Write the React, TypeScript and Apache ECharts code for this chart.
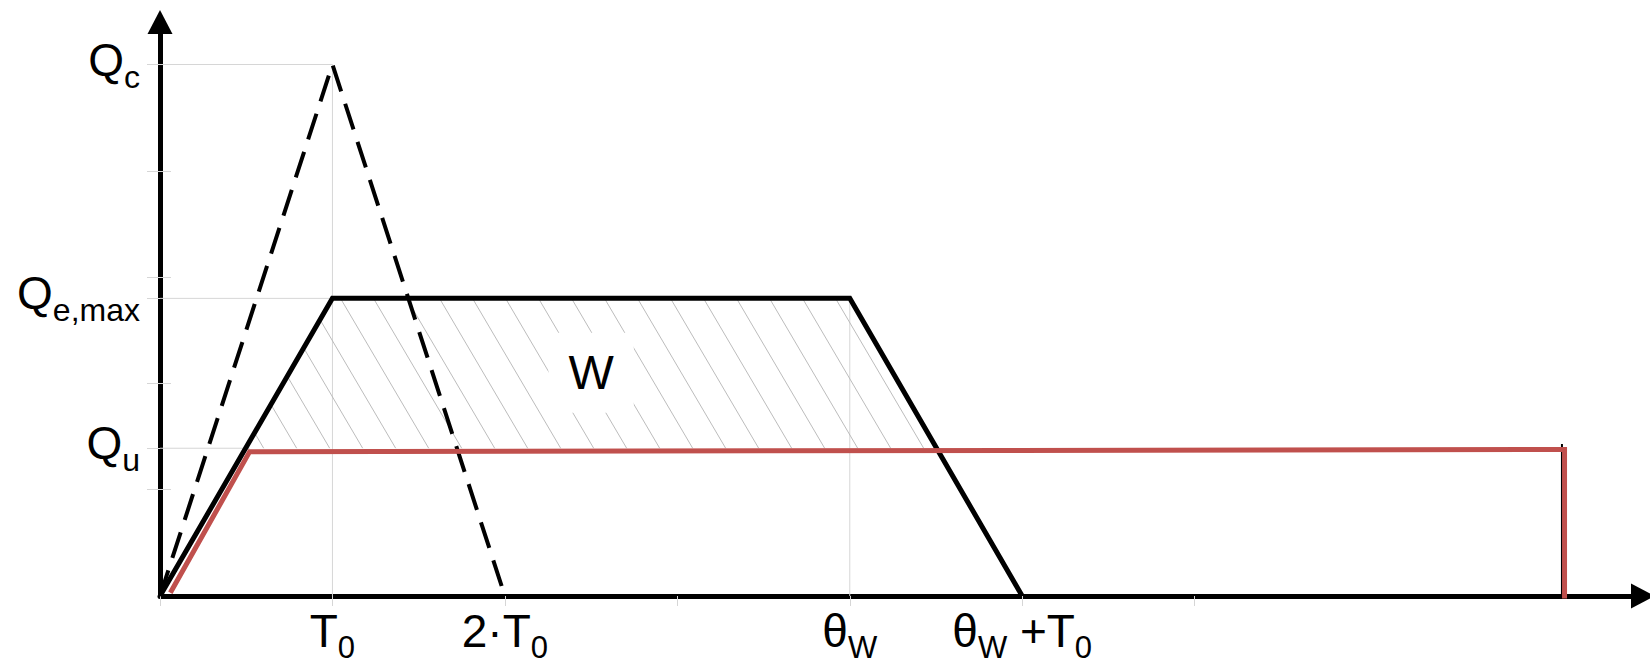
import React, { useEffect, useRef } from "react";
import * as echarts from "echarts";

// Characteristic levels (in units of the y scale)
const Q_C = 5;
const Q_E_MAX = 2.8;
const Q_U = 1.39;

// Time marks (in units of T0)
const X_MAX = 8.6;
const Y_MAX = 5.4;
const xTickValues = [0, 1, 2, 3, 4, 5, 6];
const xLabelValues = [1, 2, 4, 5];
const xLabelTexts = ["{m|T}{s|0}", "{m|2·T}{s|0}", "{m|θ}{s|W}", "{m|θ}{s|W}{m| +T}{s|0}"];

const yTickValues = [1, 2, 3, 4, 5];
const yLabelValues = [Q_U, Q_E_MAX, Q_C];
const yLabelTexts = ["{m|Q}{s|u}", "{m|Q}{s|e,max}", "{m|Q}{s|c}"];

// Curves
const peakCurve = [[0, 0], [1, Q_C], [2, 0]];
const plateauCurve = [[0, 0], [1, Q_E_MAX], [4, Q_E_MAX], [5, 0]];
const supplyCurve = [[0.06, 0.03], [0.52, 1.358], [8.145, 1.378], [8.145, -0.054]];
const endMarker = [[8.13, 1.43], [8.13, 0]];

// Light guide lines from the axes to the characteristic points
const guideLines = [
  [[0, Q_C], [1, Q_C], [1, 0]],
  [[0, Q_E_MAX], [1, Q_E_MAX]],
  [[4, Q_E_MAX], [4, 0]],
  [[0, Q_U], [0.52, Q_U]],
];

// Hatched energy region W
const hatchRegion = [[Q_U / Q_E_MAX, Q_U], [1, Q_E_MAX], [4, Q_E_MAX], [5 - Q_U / Q_E_MAX, Q_U]];
const W_POS = [2.5, 2.1];
const HATCH_SLOPE = 1.7;
const HATCH_GAP = 33;

const FONT = "'Liberation Sans', Arial, sans-serif";
const GRID_GRAY = "#d6d6d6";

function renderHatch(_params: any, api: any) {
  const poly = hatchRegion.map((p) => api.coord(p));
  const len = Math.hypot(1, HATCH_SLOPE);
  const n = [HATCH_SLOPE / len, -1 / len];
  const proj = poly.map((p: number[]) => p[0] * n[0] + p[1] * n[1]);
  const cMin = Math.min(...proj);
  const cMax = Math.max(...proj);
  const step = HATCH_GAP * n[0];
  const children: any[] = [];
  for (let c = Math.ceil(cMin / step) * step; c <= cMax; c += step) {
    const pts: number[][] = [];
    for (let i = 0; i < poly.length; i++) {
      const j = (i + 1) % poly.length;
      const fa = proj[i] - c;
      const fb = proj[j] - c;
      if ((fa <= 0 && fb > 0) || (fa > 0 && fb <= 0)) {
        const t = fa / (fa - fb);
        const a = poly[i];
        const b = poly[j];
        pts.push([a[0] + t * (b[0] - a[0]), a[1] + t * (b[1] - a[1])]);
      }
    }
    if (pts.length >= 2) {
      children.push({
        type: "line",
        shape: { x1: pts[0][0], y1: pts[0][1], x2: pts[1][0], y2: pts[1][1] },
        style: { stroke: "#b4b4b4", lineWidth: 0.9 },
      });
    }
  }
  const w = api.coord(W_POS);
  children.push({
    type: "text",
    x: w[0],
    y: w[1],
    style: {
      text: "W",
      fontSize: 48,
      fontFamily: FONT,
      fill: "#000",
      align: "center",
      verticalAlign: "middle",
      backgroundColor: "#fff",
      padding: [16, 20],
    },
  });
  return { type: "group", children };
}

export default function App() {
  const ref = useRef<HTMLDivElement>(null);

  useEffect(() => {
    if (!ref.current) return;
    const chart = echarts.init(ref.current, undefined, { renderer: "svg" });

    const lineSeries = (data: number[][], style: any, z = 3) => ({
      type: "line",
      data,
      symbol: "none",
      showSymbol: false,
      silent: true,
      z,
      lineStyle: style,
    });

    const xLabelMap: Record<number, string> = {};
    xLabelValues.forEach((v, i) => (xLabelMap[v] = xLabelTexts[i]));
    const yLabelMap: Record<number, string> = {};
    yLabelValues.forEach((v, i) => (yLabelMap[v] = yLabelTexts[i]));

    const option: any = {
      animation: false,
      backgroundColor: "#fff",
      grid: { left: 160, right: 7, top: 22, bottom: 71, containLabel: false },
      xAxis: {
        type: "value",
        min: 0,
        max: X_MAX,
        interval: 1,
        axisLine: {
          show: true,
          symbol: ["none", "triangle"],
          symbolSize: [25, 24],
          lineStyle: { color: "#000", width: 5 },
        },
        axisTick: {
          show: true,
          customValues: xTickValues,
          length: 10,
          lineStyle: { color: GRID_GRAY, width: 1 },
        },
        axisLabel: {
          show: true,
          customValues: xLabelValues,
          margin: 12,
          formatter: (v: number) => xLabelMap[v] ?? "",
          rich: {
            m: { fontSize: 46, fontFamily: FONT, color: "#000", padding: [0, 0, 9, 0] },
            s: { fontSize: 31, fontFamily: FONT, color: "#000", verticalAlign: "bottom" },
          },
        },
        splitLine: { show: false },
      },
      yAxis: [
        {
          type: "value",
          min: 0,
          max: Y_MAX,
          interval: 1,
          axisLine: {
            show: true,
            symbol: ["none", "triangle"],
            symbolSize: [25, 24],
            lineStyle: { color: "#000", width: 5 },
          },
          axisTick: {
            show: true,
            customValues: [...yTickValues, Q_E_MAX, Q_U],
            length: 13,
            lineStyle: { color: GRID_GRAY, width: 1 },
          },
          axisLabel: {
            show: true,
            customValues: yLabelValues,
            margin: 20,
            formatter: (v: number) => yLabelMap[v] ?? "",
            rich: {
              m: { fontSize: 46, fontFamily: FONT, color: "#000", padding: [0, 0, 10, 0] },
              s: { fontSize: 32, fontFamily: FONT, color: "#000", verticalAlign: "bottom" },
            },
          },
          splitLine: { show: false },
        },
        {
          type: "value",
          position: "left",
          min: 0,
          max: Y_MAX,
          interval: 1,
          axisLine: { show: false },
          axisTick: {
            show: true,
            inside: true,
            customValues: yTickValues,
            length: 11,
            lineStyle: { color: GRID_GRAY, width: 1 },
          },
          axisLabel: { show: false },
          splitLine: { show: false },
        },
      ],
      series: [
        ...guideLines.map((g) => lineSeries(g, { color: GRID_GRAY, width: 1 }, 1)),
        {
          type: "custom",
          renderItem: renderHatch,
          data: [[0, 0]],
          silent: true,
          z: 2,
        },
        lineSeries(peakCurve, { color: "#000", width: 4, type: [27, 13], cap: "butt" }),
        lineSeries(plateauCurve, { color: "#000", width: 5, join: "miter" }),
        lineSeries(endMarker, { color: "#000", width: 2 }),
        lineSeries(supplyCurve, { color: "#c0504d", width: 5, join: "miter" }),
      ],
    };

    chart.setOption(option);
    return () => chart.dispose();
  }, []);

  return (
    <div
      ref={ref}
      style={{ position: "fixed", left: 0, top: 0, width: 1650, height: 667, background: "#fff" }}
    />
  );
}
